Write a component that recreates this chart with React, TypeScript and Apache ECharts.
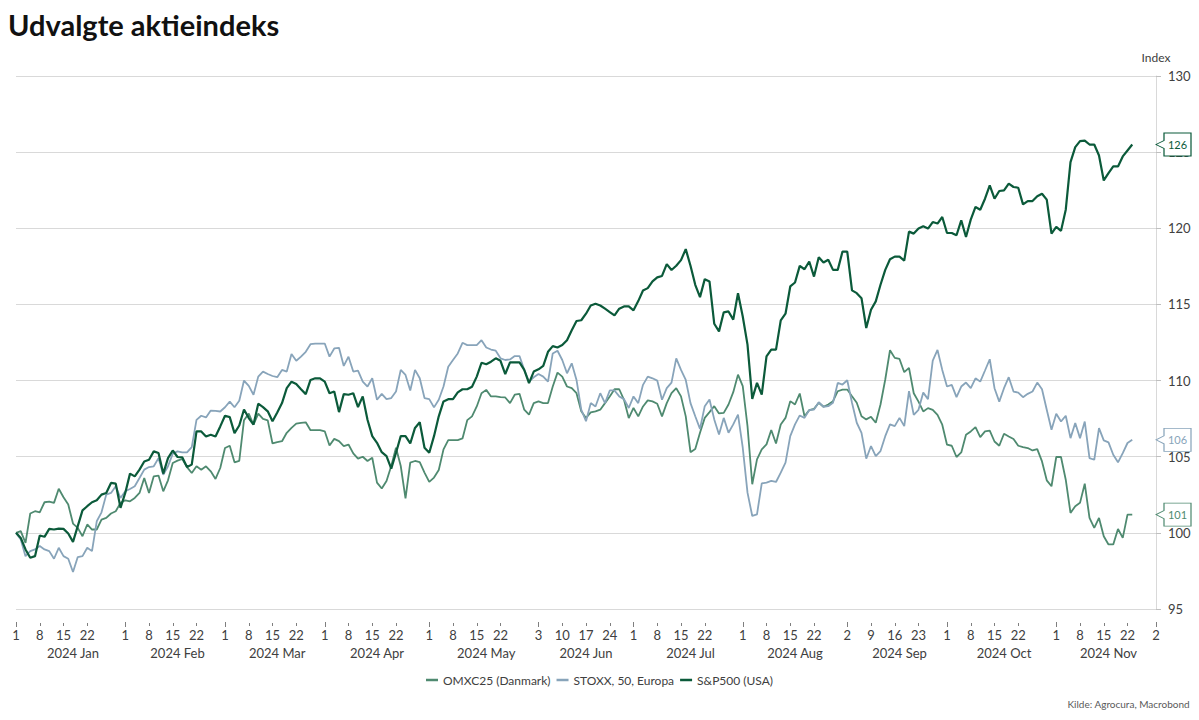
import React, { useEffect, useRef } from "react";
import * as echarts from "echarts";

// ---------- data ----------
const START_DATE = "2024-01-01";
const END_DATE = "2024-12-02";

const SERIES_NAMES = ["OMXC25 (Danmark)", "STOXX, 50, Europa", "S&P500 (USA)"];
const SERIES_COLORS = ["#4f8a70", "#88a4ba", "#0b5a3a"];

const DAY_TICKS = [
  "2024-01-01", "2024-01-08", "2024-01-15", "2024-01-22",
  "2024-02-01", "2024-02-08", "2024-02-15", "2024-02-22",
  "2024-03-01", "2024-03-08", "2024-03-15", "2024-03-22",
  "2024-04-01", "2024-04-08", "2024-04-15", "2024-04-22",
  "2024-05-01", "2024-05-08", "2024-05-15", "2024-05-22",
  "2024-06-03", "2024-06-10", "2024-06-17", "2024-06-24",
  "2024-07-01", "2024-07-08", "2024-07-15", "2024-07-22",
  "2024-08-01", "2024-08-08", "2024-08-15", "2024-08-22",
  "2024-09-02", "2024-09-09", "2024-09-16", "2024-09-23",
  "2024-10-01", "2024-10-08", "2024-10-15", "2024-10-22",
  "2024-11-01", "2024-11-08", "2024-11-15", "2024-11-22",
  "2024-12-02",
];

const MONTH_STARTS = [
  "2024-01-01", "2024-02-01", "2024-03-01", "2024-04-01", "2024-05-01", "2024-06-03",
  "2024-07-01", "2024-08-01", "2024-09-02", "2024-10-01", "2024-11-01", "2024-12-02",
];

const MONTH_LABELS = [
  "2024 Jan", "2024 Feb", "2024 Mar", "2024 Apr", "2024 May", "2024 Jun",
  "2024 Jul", "2024 Aug", "2024 Sep", "2024 Oct", "2024 Nov",
];

const OMXC25 = [
  100.0, 100.11, 99.34, 101.27, 101.42, 101.35, 102.01, 102.05, 101.97, 102.9,
  102.34, 101.86, 100.61, 100.33, 99.78, 100.55, 100.22, 100.22, 100.87, 100.98,
  101.27, 101.42, 101.97, 102.14, 102.07, 102.29, 102.62, 103.6, 102.62, 103.71,
  103.76, 102.73, 103.45, 104.59, 104.74, 104.85, 104.32, 103.93, 104.37, 104.15,
  104.37, 104.04, 103.54, 104.26, 105.57, 105.72, 104.63, 104.72, 107.4, 107.83,
  107.11, 107.83, 107.48, 107.39, 105.87, 105.96, 106.02, 106.57, 106.89, 107.17,
  107.22, 107.26, 106.74, 106.74, 106.74, 106.67, 105.74, 106.17, 106.02, 105.7,
  105.8, 105.22, 104.87, 105.0, 104.72, 104.93, 103.3, 102.91, 103.41, 104.39,
  105.59, 104.39, 102.26, 104.61, 104.72, 104.65, 103.96, 103.35, 103.63, 104.13,
  105.48, 106.09, 106.09, 106.09, 106.2, 107.4, 107.65, 108.3, 109.17, 109.39,
  108.96, 108.96, 108.91, 108.89, 108.52, 109.07, 109.13, 108.09, 107.76, 108.52,
  108.63, 108.52, 108.52, 109.61, 110.52, 110.26, 109.61, 109.5, 109.17, 107.98,
  107.54, 107.91, 107.98, 108.09, 108.52, 108.96, 109.43, 109.43, 108.74, 107.54,
  108.2, 107.65, 108.3, 108.7, 108.63, 108.48, 107.65, 108.52, 109.17, 109.5,
  108.96, 107.65, 105.3, 105.5, 106.57, 107.55, 107.93, 108.32, 107.84, 107.88,
  108.43, 109.24, 110.39, 109.63, 107.01, 103.19, 104.83, 105.48, 105.81, 106.75,
  105.87, 107.12, 107.55, 108.65, 108.43, 109.15, 107.66, 108.06, 108.14, 108.54,
  108.28, 108.43, 108.65, 109.3, 109.41, 109.41, 108.97, 108.54, 107.66, 107.45,
  107.62, 107.23, 108.43, 110.07, 111.99, 111.49, 111.42, 110.55, 110.83, 109.17,
  108.62, 107.97, 108.19, 108.08, 107.75, 107.1, 105.79, 105.72, 104.98, 105.28,
  106.44, 106.66, 106.94, 106.29, 106.66, 106.72, 106.0, 105.72, 106.51, 106.33,
  106.16, 105.72, 105.63, 105.57, 105.41, 105.5, 104.69, 103.45, 103.06, 104.98,
  104.98, 103.49, 101.31, 101.75, 101.97, 103.23, 100.98, 100.33, 100.98, 99.78,
  99.24, 99.24, 100.26, 99.67, 101.2, 101.2,
];

const STOXX50 = [
  100.0, 99.56, 98.47, 98.8, 98.91, 99.13, 98.91, 98.8, 98.3, 99.02,
  98.47, 98.3, 97.43, 98.41, 98.47, 99.02, 98.8, 100.76, 101.35, 102.51,
  102.62, 103.06, 102.29, 102.73, 102.88, 103.06, 103.6, 104.15, 104.32, 104.37,
  104.91, 103.82, 104.37, 105.2, 105.35, 105.28, 105.28, 105.63, 107.42, 107.69,
  107.58, 108.03, 108.01, 107.97, 108.25, 108.62, 108.25, 108.68, 110.0, 109.65,
  109.07, 110.26, 110.59, 110.43, 110.3, 110.22, 110.7, 110.59, 111.74, 111.3,
  111.57, 111.89, 112.39, 112.43, 112.43, 112.43, 111.57, 112.11, 112.15, 110.96,
  111.57, 110.59, 110.65, 109.93, 109.61, 110.15, 108.74, 109.13, 108.78, 108.85,
  109.28, 110.7, 110.37, 109.35, 110.7, 110.15, 108.85, 108.78, 108.24, 108.74,
  109.61, 110.91, 111.35, 111.78, 112.48, 112.33, 112.33, 112.33, 112.65, 112.17,
  112.04, 111.96, 111.46, 111.35, 111.39, 111.61, 111.61, 110.7, 109.93, 110.22,
  110.43, 110.26, 109.93, 111.78, 111.96, 111.35, 110.48, 111.13, 110.04, 108.09,
  107.33, 108.52, 108.3, 109.17, 108.52, 109.35, 109.35, 108.96, 108.78, 108.2,
  108.96, 108.52, 109.72, 110.26, 110.15, 110.0, 108.74, 109.5, 109.87, 111.46,
  110.7, 110.04, 108.52, 107.66, 106.83, 108.32, 108.76, 107.45, 106.46, 107.55,
  106.57, 107.12, 107.77, 105.59, 102.64, 101.11, 101.22, 103.25, 103.3, 103.41,
  103.34, 103.95, 104.61, 106.35, 107.12, 107.71, 107.55, 108.06, 108.1, 108.58,
  108.28, 108.32, 108.54, 109.85, 109.74, 110.02, 108.54, 107.23, 106.57, 104.87,
  105.7, 105.04, 105.37, 106.35, 107.12, 107.01, 107.55, 107.01, 109.3, 107.75,
  108.08, 109.21, 108.78, 111.31, 112.01, 110.7, 109.61, 109.72, 108.91, 109.61,
  109.87, 109.5, 110.15, 109.93, 110.66, 111.4, 109.5, 108.62, 109.5, 110.22,
  109.28, 109.21, 108.91, 109.13, 109.28, 109.87, 109.43, 108.08, 106.77, 107.82,
  107.31, 107.69, 106.22, 107.21, 106.22, 107.31, 104.91, 104.8, 106.88, 106.07,
  105.94, 105.13, 104.63, 105.24, 105.9, 106.11,
];

const SP500 = [
  100.0, 99.67, 98.91, 98.36, 98.47, 99.83, 99.74, 100.26, 100.22, 100.28,
  100.26, 99.96, 99.41, 100.44, 101.48, 101.75, 102.01, 102.14, 102.51, 102.62,
  103.28, 103.23, 101.64, 102.62, 103.89, 103.71, 104.15, 104.69, 104.8, 105.35,
  105.24, 103.89, 104.91, 105.41, 104.98, 104.96, 104.32, 104.48, 106.66, 106.66,
  106.33, 106.44, 106.33, 106.99, 107.69, 107.6, 106.55, 107.05, 108.1, 107.54,
  107.11, 108.48, 108.26, 107.98, 107.33, 107.91, 108.52, 109.5, 109.93, 109.78,
  109.43, 109.11, 110.04, 110.15, 110.15, 109.93, 109.17, 109.28, 107.93, 109.11,
  109.07, 109.17, 108.26, 108.96, 107.43, 106.35, 105.91, 105.3, 105.04, 104.22,
  105.26, 106.35, 106.35, 105.87, 106.89, 107.26, 105.59, 105.26, 106.35, 107.65,
  108.63, 108.78, 108.78, 109.22, 109.43, 109.43, 109.6, 110.26, 111.17, 111.07,
  111.24, 111.46, 111.3, 110.43, 111.2, 111.2, 111.2, 110.7, 109.83, 110.59,
  110.74, 110.96, 111.89, 112.26, 112.17, 112.33, 112.65, 113.3, 113.91, 113.96,
  114.39, 114.93, 115.04, 114.93, 114.72, 114.5, 114.28, 114.72, 114.87, 114.87,
  114.61, 115.22, 115.91, 116.07, 116.52, 116.78, 116.87, 117.65, 117.26, 117.54,
  117.91, 118.63, 117.54, 116.29, 115.48, 116.66, 116.51, 113.73, 113.23, 114.48,
  114.54, 114.0, 115.74, 114.21, 112.36, 108.8, 109.85, 109.08, 111.59, 112.03,
  112.03, 113.95, 114.39, 116.18, 116.44, 117.53, 117.31, 117.82, 116.83, 118.1,
  117.75, 117.93, 117.27, 117.27, 118.47, 118.47, 115.92, 115.74, 115.41, 113.45,
  114.65, 115.2, 116.29, 117.27, 117.97, 118.14, 118.14, 117.88, 119.78, 119.65,
  119.98, 120.13, 119.98, 120.41, 120.31, 120.74, 119.69, 119.69, 119.54, 120.52,
  119.43, 120.57, 121.4, 121.22, 121.94, 122.82, 121.94, 122.45, 122.49, 122.93,
  122.71, 122.66, 121.57, 121.79, 121.79, 122.1, 122.27, 121.88, 119.65, 120.09,
  119.83, 121.22, 124.34, 125.33, 125.72, 125.76, 125.5, 125.5, 124.78, 123.14,
  123.62, 124.06, 124.06, 124.72, 125.11, 125.5,
];

const Y_MIN = 95;
const Y_MAX = 130;
const Y_STEP = 5;

// ---------- helpers ----------
function businessDays(start: string, end: string): string[] {
  const out: string[] = [];
  const [sy, sm, sd] = start.split("-").map(Number);
  const [ey, em, ed] = end.split("-").map(Number);
  const d = new Date(Date.UTC(sy, sm - 1, sd));
  const e = new Date(Date.UTC(ey, em - 1, ed));
  while (d.getTime() <= e.getTime()) {
    const wd = d.getUTCDay();
    if (wd !== 0 && wd !== 6) out.push(d.toISOString().slice(0, 10));
    d.setUTCDate(d.getUTCDate() + 1);
  }
  return out;
}

const DATES = businessDays(START_DATE, END_DATE);
const DAY_TICK_SET = new Set(DAY_TICKS);
const MONTH_START_SET = new Set(MONTH_STARTS);
const MONTH_MID: Record<string, string> = {};
for (let m = 0; m < MONTH_LABELS.length; m++) {
  const a = DATES.indexOf(MONTH_STARTS[m]);
  const b = DATES.indexOf(MONTH_STARTS[m + 1]);
  const mid = Math.round((a + b) / 2);
  MONTH_MID[DATES[mid]] = MONTH_LABELS[m];
}

const FONT = "Lato, 'Open Sans', sans-serif";
const CALLOUT =
  "path://M0,11.5 L8,7.5 L8,0 L35,0 L35,23 L8,23 L8,15.5 Z";

export default function App() {
  const ref = useRef<HTMLDivElement>(null);

  useEffect(() => {
    if (!ref.current) return;
    const chart = echarts.init(ref.current, undefined, { renderer: "svg" });
    const seriesData = [OMXC25, STOXX50, SP500];
    const widths = [1.8, 1.8, 2.2];
    const lastCat = DATES[DATES.length - 1];

    const series = seriesData.map((arr, k) => {
      const last = arr[arr.length - 1];
      return {
        name: SERIES_NAMES[k],
        type: "line",
        data: arr,
        symbol: "none",
        showSymbol: false,
        clip: false,
        lineStyle: { color: SERIES_COLORS[k], width: widths[k] },
        itemStyle: { color: SERIES_COLORS[k] },
        emphasis: { disabled: true },
        z: 2 + k,
        markPoint: {
          silent: true,
          symbol: CALLOUT,
          symbolSize: [35, 23],
          symbolOffset: [17.5, 0],
          itemStyle: { color: "#ffffff", borderColor: SERIES_COLORS[k], borderWidth: 1 },
          label: {
            show: true,
            position: "inside",
            offset: [4, 0],
            formatter: String(Math.round(last)),
            color: SERIES_COLORS[k],
            fontSize: 11,
            fontFamily: FONT,
          },
          data: [{ coord: [lastCat, last] }],
        },
      };
    });

    chart.setOption({
      animation: false,
      backgroundColor: "#ffffff",
      textStyle: { fontFamily: FONT },
      title: [
        {
          text: "Udvalgte aktieindeks",
          left: 3,
          top: 5,
          textStyle: { fontSize: 29, fontWeight: "bold", color: "#111111", fontFamily: FONT },
        },
        {
          text: "Kilde: Agrocura, Macrobond",
          right: 4,
          bottom: 6,
          textStyle: { fontSize: 10, fontWeight: "normal", color: "#595959", fontFamily: FONT },
        },
      ],
      legend: {
        data: SERIES_NAMES,
        left: "center",
        top: 669,
        icon: "rect",
        itemWidth: 12,
        itemHeight: 2.5,
        itemGap: 6,
        textStyle: { fontSize: 12, color: "#404040", fontFamily: FONT },
        selectedMode: false,
      },
      grid: { left: 16, right: 43, top: 76, bottom: 111, containLabel: false },
      xAxis: [
        {
          type: "category",
          data: DATES,
          boundaryGap: false,
          position: "bottom",
          offset: 14,
          axisLine: { show: false },
          axisTick: {
            show: true,
            interval: (i: number, v: string) => DAY_TICK_SET.has(v),
            length: 3,
            lineStyle: { color: "#7f7f7f" },
          },
          axisLabel: {
            interval: (i: number, v: string) => DAY_TICK_SET.has(v),
            formatter: (v: string) => String(Number(v.slice(8))),
            color: "#404040",
            fontSize: 13,
            margin: 5,
            fontFamily: FONT,
          },
          splitLine: { show: false },
        },
        {
          type: "category",
          data: DATES,
          boundaryGap: false,
          position: "bottom",
          offset: 13,
          axisLine: { show: false },
          axisTick: {
            show: true,
            interval: (i: number, v: string) => MONTH_START_SET.has(v),
            length: 5,
            lineStyle: { color: "#7f7f7f" },
          },
          axisLabel: {
            interval: (i: number, v: string) => v in MONTH_MID,
            formatter: (v: string) => MONTH_MID[v] || "",
            color: "#404040",
            fontSize: 13,
            margin: 24,
            fontFamily: FONT,
          },
          splitLine: { show: false },
        },
      ],
      yAxis: {
        type: "value",
        position: "right",
        min: Y_MIN,
        max: Y_MAX,
        interval: Y_STEP,
        name: "Index",
        nameLocation: "end",
        nameGap: 13,
        nameTextStyle: { color: "#404040", fontSize: 12, fontFamily: FONT },
        axisLine: { show: true, lineStyle: { color: "#d9d9d9" } },
        axisTick: { show: true, length: 5, lineStyle: { color: "#bfbfbf" } },
        axisLabel: { color: "#404040", fontSize: 13, margin: 12, fontFamily: FONT },
        splitLine: { show: true, lineStyle: { color: "#d9d9d9", width: 1 } },
      },
      series,
    });

    return () => chart.dispose();
  }, []);

  return (
    <div
      ref={ref}
      style={{ position: "fixed", left: 0, top: 0, width: 1199, height: 720, background: "#fff" }}
    />
  );
}
